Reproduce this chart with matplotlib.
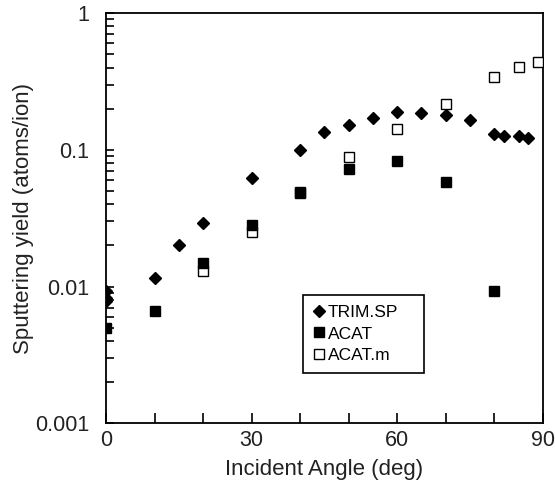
import matplotlib.pyplot as plt
from matplotlib.ticker import FixedLocator, LogLocator, NullFormatter

plt.rcParams['font.family'] = ['Liberation Sans', 'DejaVu Sans']

# TRIM.SP (filled diamonds)
trim_angle = [0, 0, 0, 10, 15, 20, 30, 40, 45, 50, 55, 60, 65, 70, 75, 80, 82, 85, 87]
trim_yield = [0.0092, 0.0082, 0.0078, 0.0116, 0.0202, 0.0294, 0.0627, 0.0995, 0.135,
              0.151, 0.170, 0.189, 0.187, 0.180, 0.166, 0.131, 0.126, 0.126, 0.123]

# ACAT (filled squares)
acat_angle = [0, 10, 20, 30, 40, 50, 60, 70, 80]
acat_yield = [0.0050, 0.0066, 0.0148, 0.0281, 0.0482, 0.0722, 0.0832, 0.0577, 0.00935]

# ACAT.m (open squares)
acatm_angle = [20, 30, 40, 50, 60, 70, 80, 85, 89]
acatm_yield = [0.0129, 0.0250, 0.049, 0.0893, 0.142, 0.216, 0.340, 0.403, 0.440]

fig = plt.figure(figsize=(5.55, 4.87), dpi=100)
ax = fig.add_axes([0.191, 0.131, 0.787, 0.842])

ax.plot(acatm_angle, acatm_yield, 's', ms=7.8, mfc='white', mec='black', mew=1.0,
        label='ACAT.m', zorder=3)
ax.plot(acat_angle, acat_yield, 's', ms=7.8, color='black', label='ACAT', zorder=4)
ax.plot(trim_angle, trim_yield, 'D', ms=6, color='black', label='TRIM.SP', zorder=5)

ax.set_yscale('log')
ax.set_xlim(0, 90)
ax.set_ylim(0.001, 1)

ax.xaxis.set_major_locator(FixedLocator([0, 30, 60, 90]))
ax.xaxis.set_minor_locator(FixedLocator([10, 20, 40, 50, 70, 80]))
ax.set_yticks([0.001, 0.01, 0.1, 1])
ax.set_yticklabels(['0.001', '0.01', '0.1', '1'])
ax.yaxis.set_minor_locator(LogLocator(base=10, subs=range(2, 10)))
ax.yaxis.set_minor_formatter(NullFormatter())

ax.tick_params(axis='both', which='both', direction='in', top=False, right=False,
               labelsize=15.5, width=1.2, labelcolor='#222222')
ax.tick_params(axis='x', which='both', length=7, pad=5)
ax.tick_params(axis='y', which='both', length=6, pad=12)
for s in ax.spines.values():
    s.set_linewidth(1.3)

ax.set_xlabel('Incident Angle (deg)', fontsize=16, color='#222222', labelpad=6)
ax.set_ylabel('Sputtering yield (atoms/ion)', fontsize=16, color='#222222', labelpad=1)

h, l = ax.get_legend_handles_labels()
order = [2, 1, 0]
leg = ax.legend([h[i] for i in order], [l[i] for i in order],
                loc='lower left', bbox_to_anchor=(0.452, 0.122, 0.275, 0.181),
                mode='expand', fontsize=12.5, fancybox=False, framealpha=1,
                edgecolor='black', handlelength=0.6, handletextpad=0.2,
                borderpad=0.6, labelspacing=0.35, borderaxespad=0)
leg.get_frame().set_linewidth(1.2)

plt.savefig('out.png', dpi=100)
